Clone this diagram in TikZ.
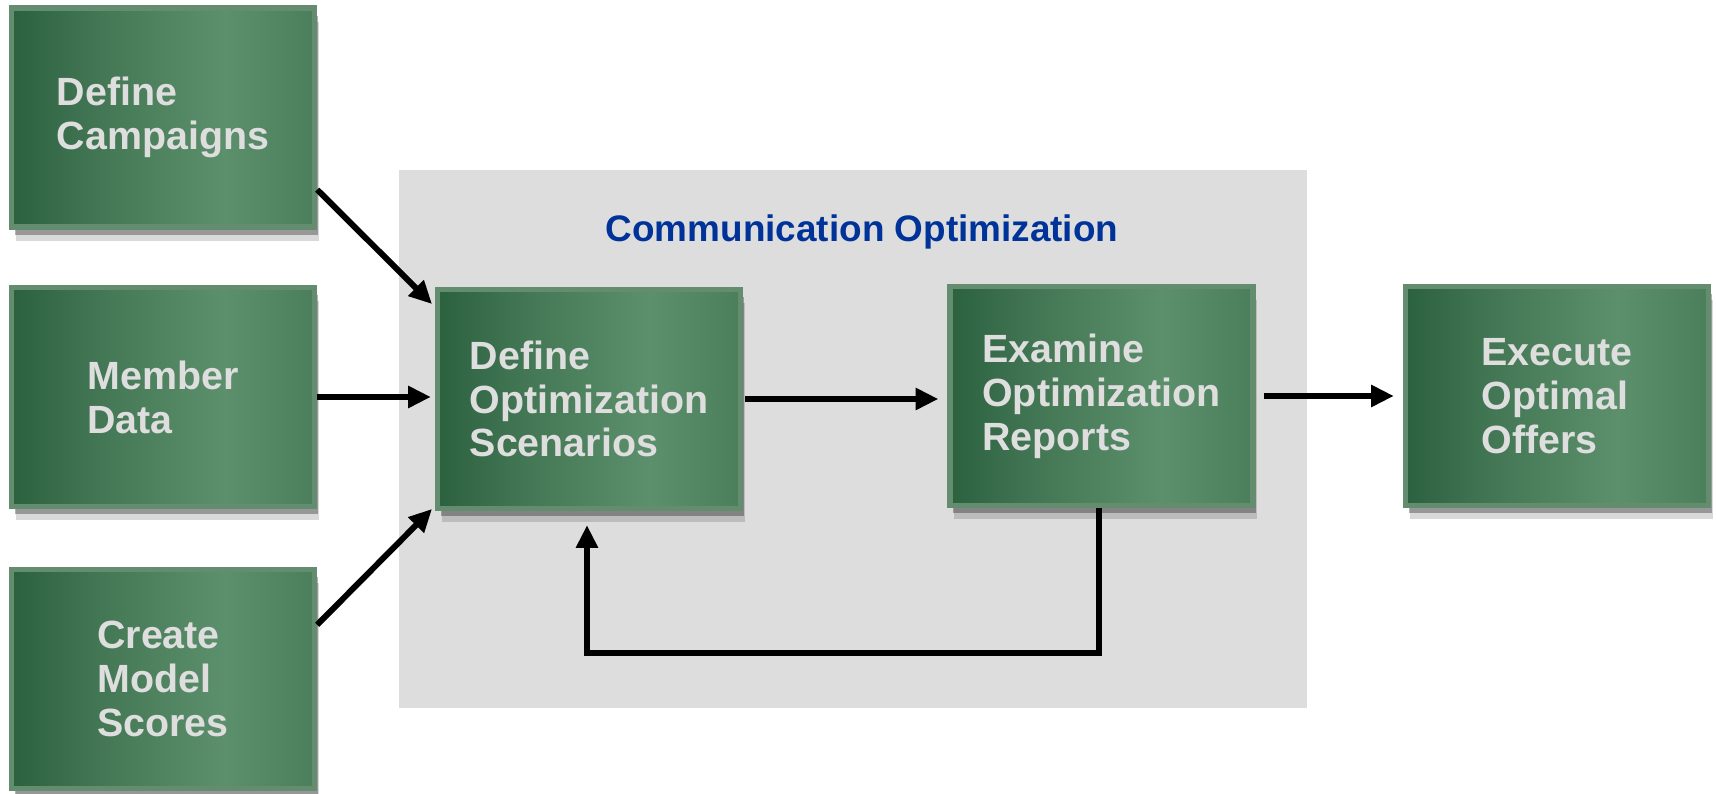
\documentclass[tikz,border=0pt]{standalone}
\usepackage{fontspec}
\setmainfont{Liberation Sans}
\usetikzlibrary{positioning,arrows.meta,shadows,backgrounds,calc}
\definecolor{stagedark}{RGB}{44,97,64}
\definecolor{stagelight}{RGB}{92,143,107}
\definecolor{stageedge}{RGB}{100,140,110}
\definecolor{stagetext}{RGB}{222,222,222}
\definecolor{panelgray}{RGB}{221,221,221}
\definecolor{titleblue}{RGB}{0,51,153}
\pgfdeclarehorizontalshading{stageshade}{100bp}{color(0bp)=(stagedark); color(25bp)=(stagedark);
  color(42bp)=(stagedark!45!stagelight); color(60bp)=(stagelight); color(75bp)=(stagedark!35!stagelight);
  color(100bp)=(stagedark!35!stagelight)}

\begin{document}
\begin{tikzpicture}[
    >={Triangle[length=6.5pt,width=6pt]},
    stage/.style={rectangle, draw=stageedge, line width=1.5pt, shading=stageshade,
                  drop shadow={shadow xshift=0.4mm, shadow yshift=-1.4mm, opacity=0.15, fill=black},
                  drop shadow={shadow xshift=0.3mm, shadow yshift=-0.8mm, opacity=0.3, fill=black},
                  minimum width=3.03cm, minimum height=2.19cm, inner sep=0pt,
                  align=left, text=stagetext, font=\fontsize{11.2}{12.5}\selectfont\bfseries},
    flow/.style={->, line width=1.7pt},
    paneltitle/.style={font=\fontsize{10.5}{12}\selectfont\bfseries, text=titleblue, inner sep=1pt},
]
  \useasboundingbox (0,0) rectangle (17.16,7.94);

  % ---------------- inputs ----------------
  \node[stage] (camp)   at (1.63, 6.765) {Define\\Campaigns};
  \node[stage] (member) at (1.63, 3.97)  {Member\\Data};
  \node[stage] (scores) at (1.63, 1.15)  {Create\\Model\\Scores};

  % ---------------- optimization panel ----------------
  \node[stage] (define)  at (5.89, 3.95)  {Define\\Optimization\\Scenarios};
  \node[stage] (examine) at (11.015, 3.98) {Examine\\Optimization\\Reports};
  \begin{scope}[on background layer]
    \node[fill=panelgray, inner sep=0pt, minimum width=9.08cm, minimum height=5.38cm] (panel) at (8.53, 3.55) {};
  \end{scope}
  \node[paneltitle] (panelT) at (8.62, 5.62) {Communication Optimization};

  % ---------------- output ----------------
  \node[stage] (execute) at (15.57, 3.98) {Execute\\Optimal\\Offers};

  % ---------------- connectors ----------------
  \draw[flow, shorten >=0.4mm] ([yshift=4mm]camp.south east) -- ([yshift=-2mm]define.north west);
  \draw[flow, shorten >=0.4mm] (member.east) -- (member.east -| define.west);
  \draw[flow, shorten >=0.4mm] ([yshift=-5.8mm]scores.north east) -- ([yshift=0.5mm]define.south west);
  \draw[flow, shorten <=0.2mm, shorten >=0.9mm] (define.east) -- (define.east -| examine.west);
  \draw[flow, shorten <=0.8mm, shorten >=0.9mm] (examine.east) -- (examine.east -| execute.west);
  % feedback loop
  \draw[flow, shorten >=1.4mm] ([xshift=-0.25mm]examine.south) -- ++(0,-1.45) -| ([xshift=-0.2mm]define.south);
\end{tikzpicture}
\end{document}
